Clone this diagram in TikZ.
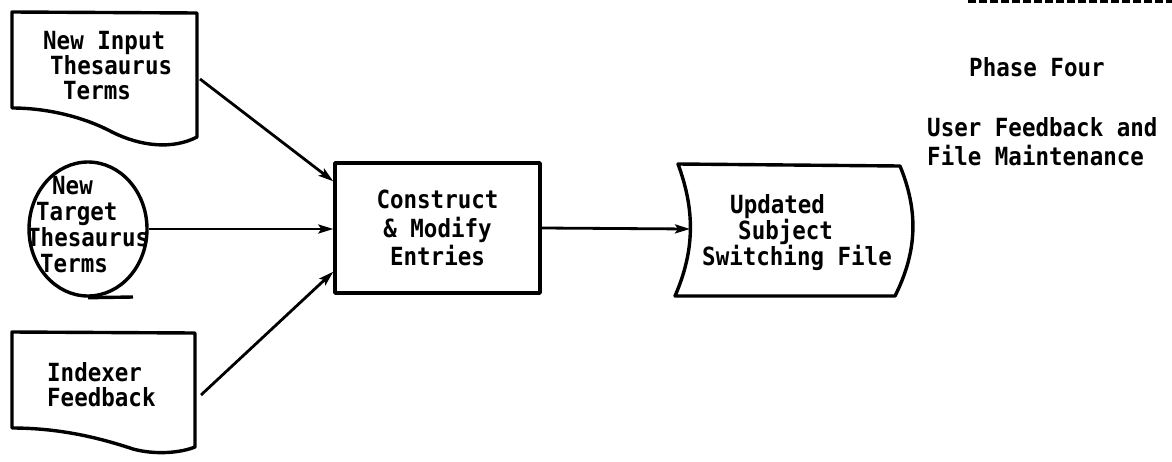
\documentclass[tikz,border=0pt]{standalone}
\usepackage{fontspec}
\newfontfamily\tw[FakeStretch=0.9]{DejaVu Sans Mono}
\usetikzlibrary{arrows.meta,shapes.geometric}
\begin{document}
\begin{tikzpicture}[x=1pt,y=-1pt,
  shapeline/.style={line width=3.4pt, line join=round},
  conn/.style={line width=2.8pt, -{Stealth[length=15pt,width=9pt,inset=3pt]}},
  lbl/.style={font=\tw\bfseries\fontsize{25}{#1}\selectfont, align=left, inner sep=0pt, anchor=north west},
  lbl/.default=26]
\useasboundingbox (0,0) rectangle (1172,461);
\fill[white] (0,0) rectangle (1172,461);

% top dashed rule
\draw[line width=3pt, dash pattern=on 8pt off 3pt] (968,1.5) -- (1172,1.5);

% document 1
\draw[shapeline] (12,12) -- (197,13) -- (197,137)
  .. controls (172,150) and (140,146) .. (112,132)
  .. controls (82,116) and (45,108) .. (12,108) -- cycle;
\node[lbl=25] (doc1) at (43,31) {New Input\\\hspace*{7pt}Thesaurus\\\hspace*{20pt}Terms};
\coordinate (doc1out) at (200,79);

% magnetic tape
\node[ellipse, draw, shapeline, minimum width=118pt, minimum height=134pt, inner sep=0pt] (tape) at (88,229) {};
\draw[shapeline] (tape.south) -- (133,297);
\node[lbl=26] (tapetext) at (27,176) {\hspace*{25pt}New\\\hspace*{9pt}Target\\Thesaurus\\\hspace*{13pt}Terms};

% document 3
\draw[shapeline] (12,332) -- (195,333) -- (195,447)
  .. controls (180,453) and (155,455) .. (133,449)
  .. controls (100,438) and (60,428) .. (12,428) -- cycle;
\node[lbl=25] (doc3) at (47,362) {Indexer\\Feedback};
\coordinate (doc3out) at (201,395);

% process box
\node[draw, shapeline, minimum width=205pt, minimum height=130pt, inner sep=0pt,
      font=\tw\bfseries\fontsize{25}{28.5}\selectfont, align=center] (proc) at (437.5,228)
  {Construct\\\& Modify\hspace*{13pt}\\Entries};

% stored file
\draw[shapeline] (678,164) -- (900,166)
  .. controls (918,210) and (918,250) .. (895,296)
  -- (675,296)
  .. controls (695,250) and (695,210) .. (678,164) -- cycle;
\node[lbl=26] (file) at (702,194) {\hspace*{28pt}Updated\\\hspace*{36pt}Subject\\Switching File};
\coordinate (filein) at (690,229);

% right-hand captions
\node[lbl] (phase) at (969,57) {Phase Four};
\node[lbl=29] (caption) at (927,117) {User Feedback and\\File Maintenance};

% connectors
\draw[conn] (doc1out) -- ([yshift=-20pt]proc.north west);
\draw[conn] (tape.east) -- (tape.east -| proc.west);
\draw[conn] (doc3out) -- ([yshift=23pt]proc.south west);
\draw[conn] (proc.east) -- (filein);
\end{tikzpicture}
\end{document}
